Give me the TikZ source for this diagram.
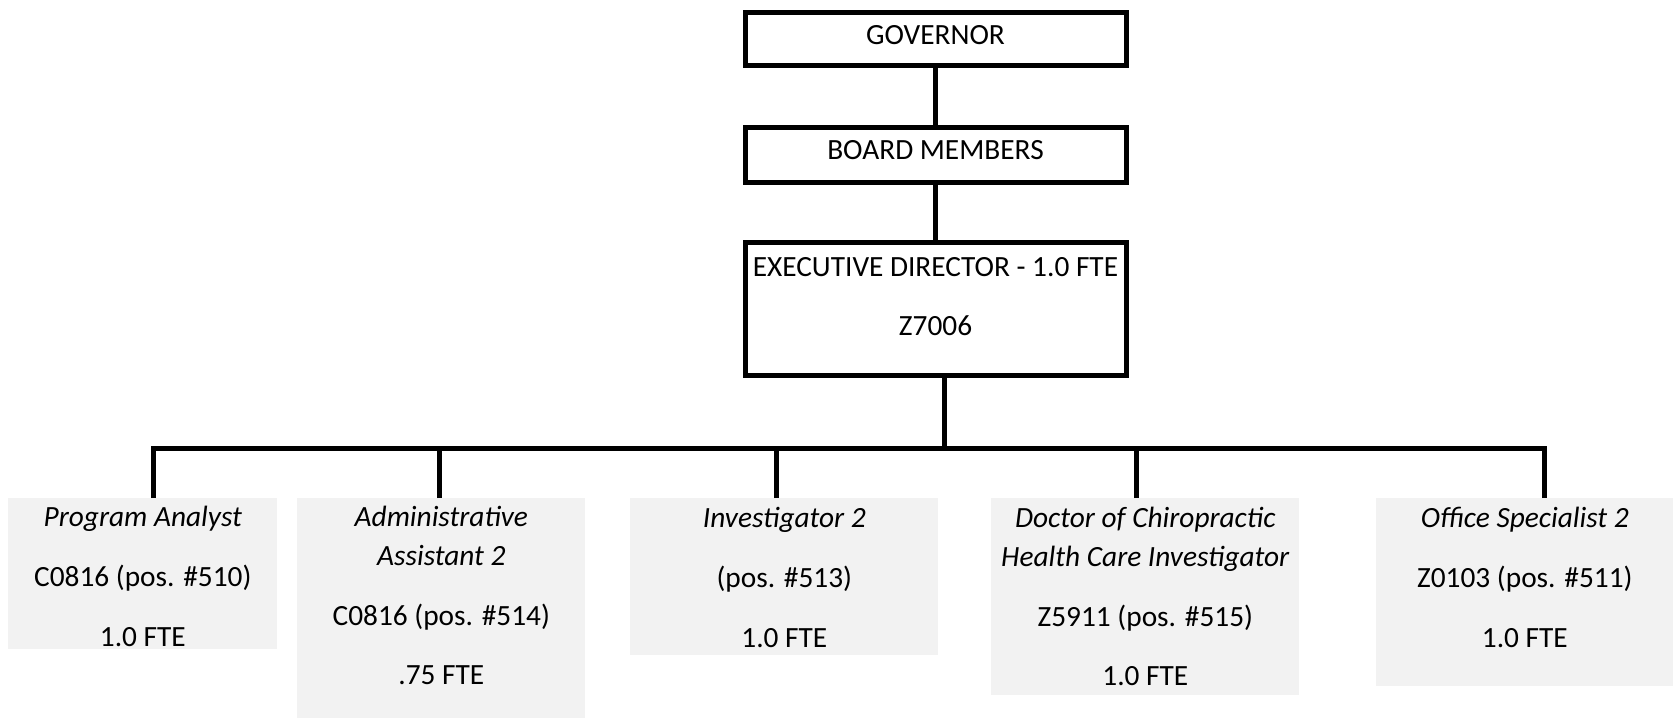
\documentclass[tikz,border=0pt]{standalone}
\usepackage{fontspec}
\setmainfont{Carlito}
\usepackage{xcolor}
\usetikzlibrary{positioning}
\definecolor{cellgray}{HTML}{F2F2F2}
\newlength{\pxu}
\setlength{\pxu}{0.02cm}
\newcommand{\cell}[4]{\parbox[c][#2\pxu][t]{#1\pxu}{\centering\rule{0pt}{#3\pxu}#4}}

\begin{document}
\begin{tikzpicture}[x=0.02cm, y=-0.02cm,
		font=\fontsize{16.7pt}{22.1pt}\selectfont,
		head/.style={draw, line width=5\pxu, inner sep=0pt, anchor=north west},
		role/.style={fill=cellgray, inner sep=0pt, anchor=north west},
		conn/.style={line width=5\pxu}]
		\useasboundingbox (0,0) rectangle (1673,719);
		\node[head] (gov) at (742.5,10.5) {\cell{381}{53}{31.5}{GOVERNOR}};
		\node[head] (board) at (742.5,125.5) {\cell{381}{55}{31.5}{BOARD MEMBERS}};
		\node[head] (exec) at (742.5,240.5) {\cell{381}{133}{33.5}{EXECUTIVE DIRECTOR - 1.0 FTE\\[20\pxu] Z7006}};
		\node[role] (pa) at (8,498) {\cell{269}{151}{28}{\textit{Program Analyst}\\[21\pxu] C0816 (pos. \#510)\\[21\pxu] 1.0 FTE}};
		\node[role] (aa) at (297,498) {\cell{288}{220}{28}{\textit{Administrative}\\ \textit{Assistant 2}\\[21\pxu] C0816 (pos. \#514)\\[21\pxu] .75 FTE}};
		\node[role] (inv) at (630,498) {\cell{308}{157}{29}{\textit{Investigator 2}\\[21\pxu] (pos. \#513)\\[21\pxu] 1.0 FTE}};
		\node[role] (doc) at (991,498) {\cell{308}{197}{29}{\textit{Doctor of Chiropractic}\\ \textit{Health Care Investigator}\\[21\pxu] Z5911 (pos. \#515)\\[21\pxu] 1.0 FTE}};
		\node[role] (os) at (1376,498) {\cell{297}{188}{29}{\textit{Office Specialist 2}\\[21\pxu] Z0103 (pos. \#511)\\[21\pxu] 1.0 FTE}};
		\coordinate (hub) at (944,448);
		\draw[conn] (gov) -- (board);
		\draw[conn] (board) -- (exec);
		\draw[conn] (exec.south -| hub) -- (hub);
		\foreach \n/\dx in {pa/10.5, aa/-2, inv/-8, doc/-9, os/19.5}
			\draw[conn] ([xshift=\dx\pxu]\n.north) |- (hub);
\end{tikzpicture}
\end{document}
